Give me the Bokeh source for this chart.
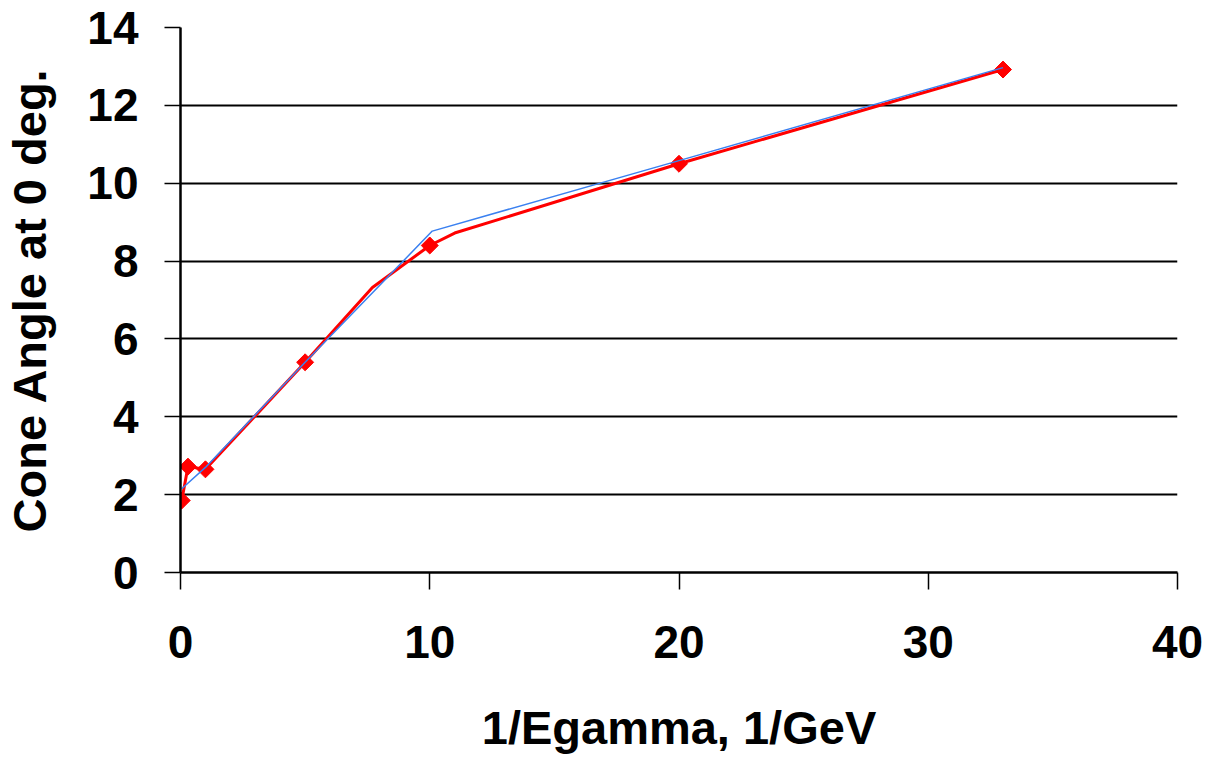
import math
from bokeh.plotting import figure
from bokeh.models import Range1d, FixedTicker
from bokeh.embed import file_html
from bokeh.resources import INLINE

# Data
marker_x = [0.05, 0.3, 1.0, 5.0, 10.0, 20.0, 33.0]
marker_y = [1.85, 2.72, 2.65, 5.4, 8.4, 10.5, 12.92]

red_x = [0.05, 0.3, 1.0, 5.0, 7.7, 10.0, 11.0, 20.0, 33.0]
red_y = [1.85, 2.72, 2.65, 5.4, 7.32, 8.4, 8.72, 10.5, 12.92]

blue_x = [0.05, 1.0, 5.0, 10.1, 20.0, 33.0]
blue_y = [2.15, 2.7, 5.4, 8.77, 10.58, 12.97]

x_ticks = [0, 10, 20, 30, 40]
y_ticks = [0, 2, 4, 6, 8, 10, 12, 14]

FONT = "Liberation Sans"

p = figure(width=1206, height=759, output_backend="svg", toolbar_location=None,
           x_range=Range1d(0, 40), y_range=Range1d(0, 14),
           min_border_left=180, min_border_right=29, min_border_top=27, min_border_bottom=187)
p.outline_line_color = None
p.background_fill_color = "white"
p.border_fill_color = "white"

p.xgrid.visible = False
p.ygrid.ticker = FixedTicker(ticks=y_ticks)
p.ygrid.grid_line_color = "black"
p.ygrid.grid_line_width = 2

p.xaxis.ticker = FixedTicker(ticks=x_ticks)
p.yaxis.ticker = FixedTicker(ticks=y_ticks)

for ax in (p.xaxis[0], p.yaxis[0]):
    ax.axis_line_color = "black"
    ax.axis_line_width = 2.5
    ax.major_tick_line_color = "black"
    ax.major_tick_line_width = 1.5
    ax.major_tick_in = 0
    ax.minor_tick_line_color = None
    ax.major_label_text_font = FONT
    ax.major_label_text_font_style = "bold"
    ax.major_label_text_font_size = "46px"
    ax.major_label_text_color = "black"
    ax.axis_label_text_font = FONT
    ax.axis_label_text_font_style = "bold"
    ax.axis_label_text_font_size = "47px"
    ax.axis_label_text_color = "black"

p.xaxis.major_tick_out = 17
p.yaxis.major_tick_out = 16
p.xaxis.major_label_standoff = 36
p.yaxis.major_label_standoff = 26
p.xaxis.axis_label = "1/Egamma, 1/GeV"
p.yaxis.axis_label = "Cone Angle at 0 deg."
p.xaxis.axis_label_standoff = 40
p.yaxis.axis_label_standoff = 28

p.line(red_x, red_y, line_color="#ff0000", line_width=3)
p.scatter(marker_x, marker_y, marker="square", size=12, angle=math.pi / 4,
          fill_color="#ff0000", line_color="#ff0000")
p.line(blue_x, blue_y, line_color="#3a80f0", line_width=1.5)

open("out.html", "w").write(file_html(p, INLINE))
